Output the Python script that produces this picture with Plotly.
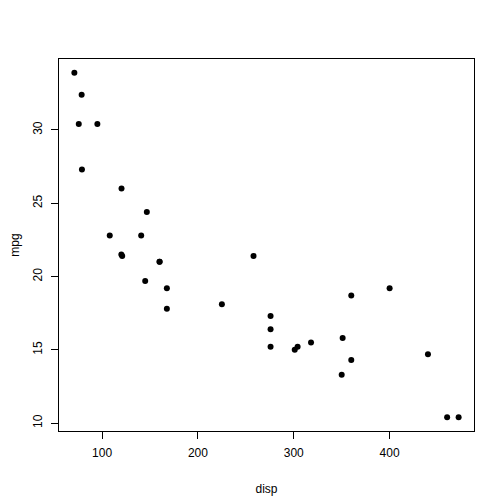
import plotly.graph_objects as go

disp = [160, 160, 108, 258, 360, 225, 360, 146.7, 140.8, 167.6, 167.6, 275.8, 275.8, 275.8,
        472, 460, 440, 78.7, 75.7, 71.1, 120.1, 318, 304, 350, 400, 79, 120.3, 95.1, 351, 145, 301, 121]
mpg = [21.0, 21.0, 22.8, 21.4, 18.7, 18.1, 14.3, 24.4, 22.8, 19.2, 17.8, 16.4, 17.3, 15.2,
       10.4, 10.4, 14.7, 32.4, 30.4, 33.9, 21.5, 15.5, 15.2, 13.3, 19.2, 27.3, 26.0, 30.4, 15.8, 19.7, 15.0, 21.4]
x_ticks = [100, 200, 300, 400]
y_ticks = [10, 15, 20, 25, 30]

def ext(v):
    lo, hi = min(v), max(v)
    d = (hi - lo) * 0.04
    return [lo - d, hi + d]

fig = go.Figure(go.Scatter(x=disp, y=mpg, mode="markers",
                           marker=dict(color="black", size=6, line=dict(width=0))))

font = dict(family="Liberation Sans, Arial, sans-serif", size=12, color="black")
# page body has an 8px margin; margins compensate so the plot box lands where R puts it
fig.update_layout(
    width=504, height=504, autosize=False,
    margin=dict(l=51, r=38, t=51, b=81, pad=0),
    paper_bgcolor="white", plot_bgcolor="white",
    font=font, showlegend=False,
)
axcommon = dict(showgrid=False, zeroline=False, showline=True, mirror=True, automargin=False,
                linecolor="black", linewidth=1, ticks="outside", ticklen=7,
                tickcolor="black", tickwidth=1, tickfont=font)
fig.update_xaxes(range=ext(disp), tickvals=x_ticks, ticktext=[str(t) for t in x_ticks],
                 title=dict(text="disp", font=font, standoff=25), ticklabelstandoff=4, **axcommon)
fig.update_yaxes(range=ext(mpg), tickvals=y_ticks, ticktext=[str(t) for t in y_ticks],
                 tickangle=-90, title=dict(text="mpg", font=font, standoff=21),
                 ticklabelstandoff=4, **axcommon)
fig.write_html("out.html")
